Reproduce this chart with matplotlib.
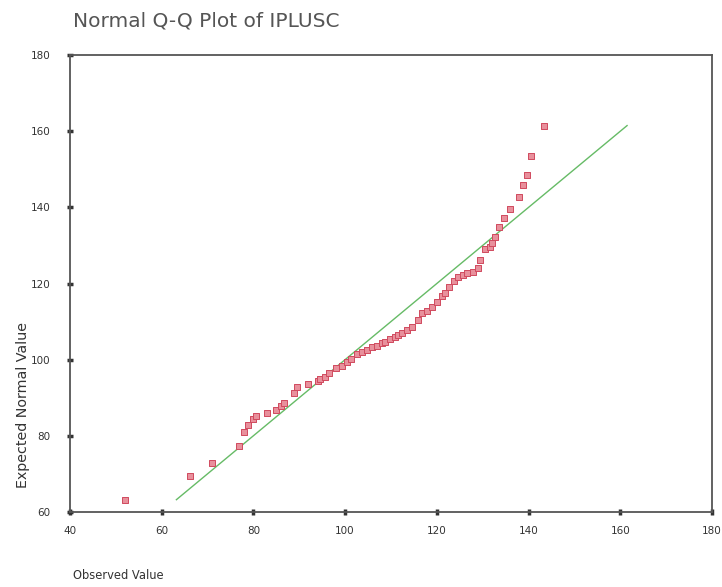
import matplotlib
matplotlib.use('Agg')
import matplotlib.pyplot as plt
import numpy as np

# observed vs expected normal values
observed = [52.0, 66.1, 70.9, 76.8, 77.9, 78.9, 79.8, 80.6, 82.9, 84.9,
            86.0, 86.7, 88.9, 89.6, 92.0, 94.0, 94.6, 95.6, 96.5, 98.0,
            99.3, 100.4, 101.2, 102.5, 103.6, 104.7, 105.8, 106.9, 108.0, 108.7,
            109.8, 110.9, 111.6, 112.4, 113.5, 114.6, 115.8, 116.7, 117.8, 118.9,
            120.0, 121.1, 121.8, 122.6, 123.7, 124.7, 125.8, 126.6, 127.9, 129.0,
            129.5, 130.6, 131.5, 132.1, 132.6, 133.5, 134.6, 135.9, 137.9, 138.8,
            139.6, 140.6, 143.3]
expected = [63.2, 69.4, 72.8, 77.3, 81.0, 82.7, 84.3, 85.2, 86.1, 86.8,
            87.7, 88.5, 91.2, 92.7, 93.6, 94.4, 94.8, 95.4, 96.6, 97.7,
            98.2, 99.5, 100.2, 101.5, 102.1, 102.5, 103.3, 103.6, 104.3, 104.7,
            105.4, 106.0, 106.5, 107.1, 107.8, 108.7, 110.4, 112.3, 112.9, 113.8,
            115.1, 116.7, 117.6, 119.0, 120.7, 121.6, 122.2, 122.7, 123.1, 124.0,
            126.2, 129.0, 129.7, 130.7, 132.3, 134.8, 137.3, 139.5, 142.8, 145.9,
            148.4, 153.5, 161.5]

xticks = [40, 60, 80, 100, 120, 140, 160, 180]
yticks = [60, 80, 100, 120, 140, 160, 180]

fig = plt.figure(figsize=(7.22, 5.87), dpi=100)
ax = fig.add_axes([0.097, 0.128, 0.889, 0.778])

lo, hi = min(expected), max(expected)
ax.plot([lo, hi], [lo, hi], color='#66bb66', lw=1.0, zorder=2)
ax.scatter(observed, expected, marker='s', s=13, facecolor='#e8909c',
           edgecolor='#d04a5e', linewidths=0.7, zorder=3)

ax.set_xlim(40, 180)
ax.set_ylim(60, 180)
ax.set_xticks(xticks)
ax.set_yticks(yticks)
ax.tick_params(direction='inout', length=4, width=2.5, color='#333333',
               labelsize=7.5, labelcolor='#333333')
ax.tick_params(axis='x', pad=8)
ax.tick_params(axis='y', pad=12)
for s in ax.spines.values():
    s.set_color('#555555')
    s.set_linewidth(1.3)

fig.text(0.101, 0.965, 'Normal Q-Q Plot of IPLUSC', fontsize=14.5,
         color='#555555', ha='left', va='center')
fig.text(0.101, 0.019, 'Observed Value', fontsize=8.3, color='#333333',
         ha='left', va='center')
fig.text(0.032, 0.31, 'Expected Normal Value', fontsize=10.3, color='#333333',
         rotation=90, ha='center', va='center')

fig.savefig('out.png', dpi=100, facecolor='white')
